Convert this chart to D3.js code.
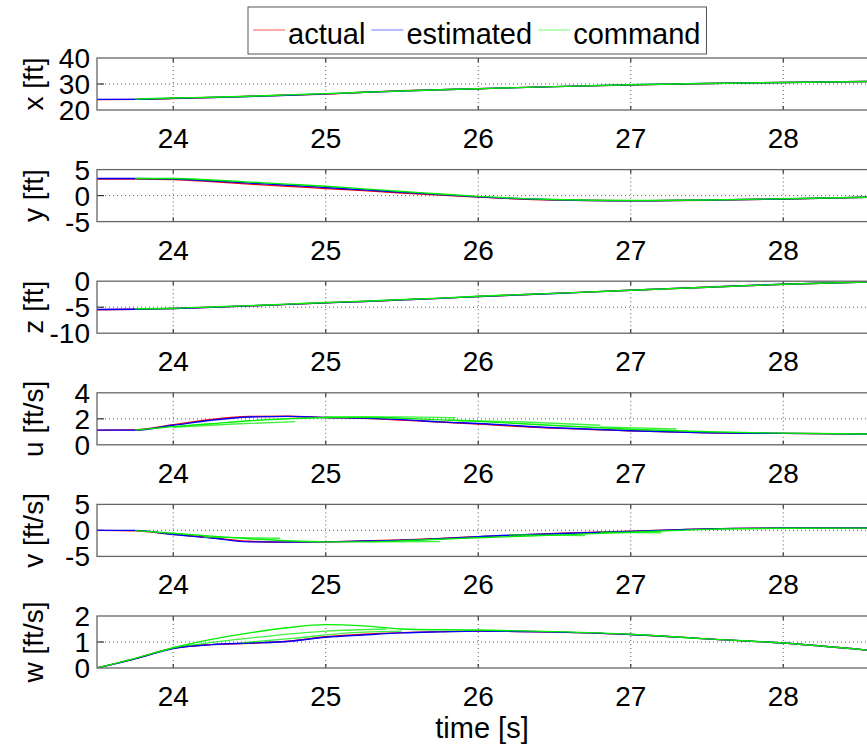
<!DOCTYPE html>
<html>
<head>
<meta charset="utf-8">
<script src="https://cdn.jsdelivr.net/npm/d3@7"></script>
<style>
  body { margin: 0; background: #fff; }
  svg { display: block; font-family: "Liberation Sans", Arial, Helvetica, sans-serif; }
</style>
</head>
<body>
<svg id="chart" width="867" height="746"></svg>
<script>
// ---- data ----
const times = [23.5, 23.75, 24, 24.25, 24.5, 24.75, 25, 25.25, 25.5, 25.75, 26, 26.5, 27, 27.5, 28, 28.6];
const xTicks = [24, 25, 26, 27, 28];

const xActual    = [24.0, 24.1, 24.4, 24.8, 25.3, 25.7, 26.1, 26.8, 27.4, 27.8, 28.2, 29.0, 29.6, 30.2, 30.6, 31.0];
const xEstimated = [24.1, 24.1, 24.5, 24.8, 25.2, 25.7, 26.2, 26.8, 27.3, 27.8, 28.2, 29.0, 29.7, 30.2, 30.6, 31.0];
const xCommand   = [null, 24.2, 24.6, 24.9, 25.3, 25.8, 26.3, 26.8, 27.3, 27.8, 28.2, 29.0, 29.7, 30.2, 30.6, 31.0];

const yActual    = [3.2, 3.2, 3.1, 2.7, 2.2, 1.8, 1.35, 0.95, 0.5, 0.1, -0.3, -0.85, -1.0, -0.9, -0.65, -0.3];
const yEstimated = [3.3, 3.3, 3.2, 2.85, 2.4, 2.0, 1.55, 1.1, 0.65, 0.2, -0.25, -0.8, -1.0, -0.85, -0.65, -0.3];
const yCommand   = [null, 3.3, 3.3, 3.0, 2.6, 2.2, 1.8, 1.3, 0.8, 0.3, -0.15, -0.75, -0.95, -0.85, -0.6, -0.3];

const zActual    = [-5.5, -5.4, -5.25, -5.0, -4.75, -4.45, -4.15, -3.9, -3.6, -3.3, -2.95, -2.35, -1.75, -1.15, -0.6, -0.1];
const zEstimated = [-5.45, -5.4, -5.25, -5.0, -4.75, -4.45, -4.17, -3.9, -3.6, -3.3, -2.95, -2.37, -1.73, -1.15, -0.58, -0.1];
const zCommand   = [null, -5.3, -5.2, -4.95, -4.7, -4.4, -4.1, -3.85, -3.55, -3.25, -2.9, -2.35, -1.75, -1.15, -0.6, -0.1];

const uActual    = [1.13, 1.15, 1.55, 1.95, 2.18, 2.2, 2.1, 2.03, 1.9, 1.75, 1.6, 1.28, 1.08, 0.93, 0.88, 0.83];
const uEstimated = [1.13, 1.13, 1.5, 1.89, 2.14, 2.19, 2.1, 2.05, 1.94, 1.76, 1.64, 1.31, 1.08, 0.93, 0.88, 0.83];
const uCommand   = [null, 1.13, 1.4, 1.62, 1.85, 2.0, 2.1, 2.12, 2.05, 1.92, 1.8, 1.48, 1.2, 1.0, 0.9, 0.83];
const uBranchT   = [[24.0, 24.4, 24.8], [25.0, 25.5, 25.85], [25.8, 26.3, 26.8], [26.8, 27.3]];
const uBranchV   = [[1.35, 1.6, 1.78], [2.15, 2.15, 2.08], [1.9, 1.75, 1.5], [1.38, 1.22]];

const vActual    = [0, -0.1, -0.75, -1.4, -2.1, -2.25, -2.2, -2.05, -1.85, -1.55, -1.2, -0.6, -0.15, 0.3, 0.45, 0.45];
const vEstimated = [0, 0, -0.8, -1.45, -2.2, -2.25, -2.2, -2.05, -1.9, -1.6, -1.2, -0.65, -0.2, 0.3, 0.45, 0.45];
const vCommand   = [null, -0.05, -0.55, -1.1, -1.6, -2.0, -2.2, -2.2, -2.0, -1.7, -1.4, -0.9, -0.35, 0.2, 0.4, 0.45];
const vBranchT   = [[24.2, 24.7], [25.3, 25.75], [26.2, 26.7], [26.8, 27.2]];
const vBranchV   = [[-1.3, -1.5], [-2.2, -2.15], [-0.85, -1.0], [-0.35, -0.45]];

const wActual    = [0, 0.36, 0.76, 0.9, 0.95, 1.03, 1.2, 1.3, 1.36, 1.4, 1.42, 1.38, 1.29, 1.12, 0.96, 0.66];
const wEstimated = [0, 0.35, 0.75, 0.9, 0.96, 1.02, 1.18, 1.27, 1.35, 1.39, 1.42, 1.38, 1.29, 1.12, 0.96, 0.66];
const wCommand   = [0, 0.37, 0.78, 1.1, 1.35, 1.55, 1.67, 1.62, 1.5, 1.47, 1.46, 1.4, 1.3, 1.12, 0.96, 0.66];
const wBranchT   = [[24.0, 24.5, 25.0, 25.4], [24.45, 24.8, 25.15, 25.5]];
const wBranchV   = [[0.8, 1.15, 1.42, 1.5], [0.97, 1.15, 1.35, 1.42]];

const panelLabels = ["x [ft]", "y [ft]", "z [ft]", "u [ft/s]", "v [ft/s]", "w [ft/s]"];
const panelTicks = [[20, 30, 40], [-5, 0, 5], [-10, -5, 0], [0, 2, 4], [-5, 0, 5], [0, 1, 2]];
const seriesNames = ["actual", "estimated", "command"];

const panels = [
  { actual: xActual, estimated: xEstimated, command: xCommand, branchT: [], branchV: [] },
  { actual: yActual, estimated: yEstimated, command: yCommand, branchT: [], branchV: [] },
  { actual: zActual, estimated: zEstimated, command: zCommand, branchT: [], branchV: [] },
  { actual: uActual, estimated: uEstimated, command: uCommand, branchT: uBranchT, branchV: uBranchV },
  { actual: vActual, estimated: vEstimated, command: vCommand, branchT: vBranchT, branchV: vBranchV },
  { actual: wActual, estimated: wEstimated, command: wCommand, branchT: wBranchT, branchV: wBranchV }
];

// ---- layout ----
const svg = d3.select("#chart");
const colors = { actual: "#ff0000", estimated: "#0000ff", command: "#00ee00" };
const left = 97, pxPerSec = 152.5;
const firstTop = 58, panelStep = 111.6, panelH = 52;
const fontSize = 28;

const x = d3.scaleLinear()
  .domain([23.5, 29.5])
  .range([left, left + 6 * pxPerSec]);

const line = function(yScale) {
  return d3.line()
    .defined(d => d[1] != null)
    .x(d => x(d[0]))
    .y(d => yScale(d[1]))
    .curve(d3.curveMonotoneX);
};

panels.forEach(function(p, i) {
  let top = firstTop + i * panelStep;
  let ticks = panelTicks[i];
  let y = d3.scaleLinear()
    .domain([ticks[0], ticks[2]])
    .range([top + panelH, top]);

  let g = svg.append("g").attr("class", "panel");

  g.append("clipPath")
    .attr("id", "clip" + i)
    .append("rect")
    .attr("x", left).attr("y", top)
    .attr("width", 867 - left).attr("height", panelH);

  // dotted grid
  g.selectAll(".vgrid")
    .data(xTicks)
    .enter()
    .append("line")
    .attr("x1", d => x(d)).attr("x2", d => x(d))
    .attr("y1", top).attr("y2", top + panelH)
    .attr("stroke", "#333")
    .attr("stroke-width", 0.8)
    .attr("stroke-dasharray", "1,3");

  g.append("line")
    .attr("x1", left).attr("x2", 867)
    .attr("y1", y(ticks[1])).attr("y2", y(ticks[1]))
    .attr("stroke", "#333")
    .attr("stroke-width", 0.8)
    .attr("stroke-dasharray", "1,3");

  // tick marks inside the box
  xTicks.forEach(function(t) {
    g.append("line")
      .attr("x1", x(t)).attr("x2", x(t))
      .attr("y1", top).attr("y2", top + 4)
      .attr("stroke", "#333").attr("stroke-width", 1.2);
    g.append("line")
      .attr("x1", x(t)).attr("x2", x(t))
      .attr("y1", top + panelH - 4).attr("y2", top + panelH)
      .attr("stroke", "#333").attr("stroke-width", 1.2);
  });
  g.append("line")
    .attr("x1", left).attr("x2", left + 7)
    .attr("y1", y(ticks[1])).attr("y2", y(ticks[1]))
    .attr("stroke", "#333").attr("stroke-width", 1.2);

  // curves
  let curves = g.append("g").attr("clip-path", "url(#clip" + i + ")");
  let ln = line(y);

  seriesNames.forEach(function(name) {
    let pts = times.map((t, k) => [t, p[name][k]]);
    curves.append("path")
      .attr("d", ln(pts))
      .attr("fill", "none")
      .attr("stroke", colors[name])
      .attr("stroke-width", 1.4);
  });

  p.branchT.forEach(function(bt, k) {
    let pts = bt.map((t, j) => [t, p.branchV[k][j]]);
    curves.append("path")
      .attr("d", ln(pts))
      .attr("fill", "none")
      .attr("stroke", colors.command)
      .attr("stroke-opacity", 0.75)
      .attr("stroke-width", 1.4);
  });

  // box
  g.append("rect")
    .attr("x", left).attr("y", top)
    .attr("width", 867 - left + 5).attr("height", panelH)
    .attr("fill", "none")
    .attr("stroke", "#666")
    .attr("stroke-width", 1.3);

  // y tick labels
  g.selectAll(".ylab")
    .data(ticks)
    .enter()
    .append("text")
    .attr("x", left - 7)
    .attr("y", d => y(d))
    .attr("dy", "0.36em")
    .attr("text-anchor", "end")
    .attr("font-size", fontSize + "px")
    .text(d => d);

  // x tick labels
  g.selectAll(".xlab")
    .data(xTicks)
    .enter()
    .append("text")
    .attr("x", d => x(d))
    .attr("y", top + panelH + 38)
    .attr("text-anchor", "middle")
    .attr("font-size", fontSize + "px")
    .text(d => d);

  // axis title
  g.append("text")
    .attr("transform", "translate(33," + (top + panelH / 2) + ") rotate(-90)")
    .attr("text-anchor", "middle")
    .attr("dy", "0.36em")
    .attr("font-size", fontSize + "px")
    .text(panelLabels[i]);
});

// x-axis title
svg.append("text")
  .attr("x", 482)
  .attr("y", 738)
  .attr("text-anchor", "middle")
  .attr("font-size", "29px")
  .text("time [s]");

// legend
let legend = svg.append("g").attr("class", "legend");
let legendBox = legend.append("rect")
  .attr("x", 248).attr("y", 7)
  .attr("height", 47)
  .attr("fill", "#fff")
  .attr("stroke", "#555")
  .attr("stroke-width", 1);

let lx = 253;
seriesNames.forEach(function(name) {
  legend.append("line")
    .attr("x1", lx).attr("x2", lx + 32)
    .attr("y1", 30).attr("y2", 30)
    .attr("stroke", colors[name])
    .attr("stroke-opacity", 0.55)
    .attr("stroke-width", 1.2);
  let txt = legend.append("text")
    .attr("x", lx + 35)
    .attr("y", 44)
    .attr("font-size", "29px")
    .text(name);
  lx += 35 + txt.node().getComputedTextLength() + 6;
});
legendBox.attr("width", lx - 248);
</script>
</body>
</html>
